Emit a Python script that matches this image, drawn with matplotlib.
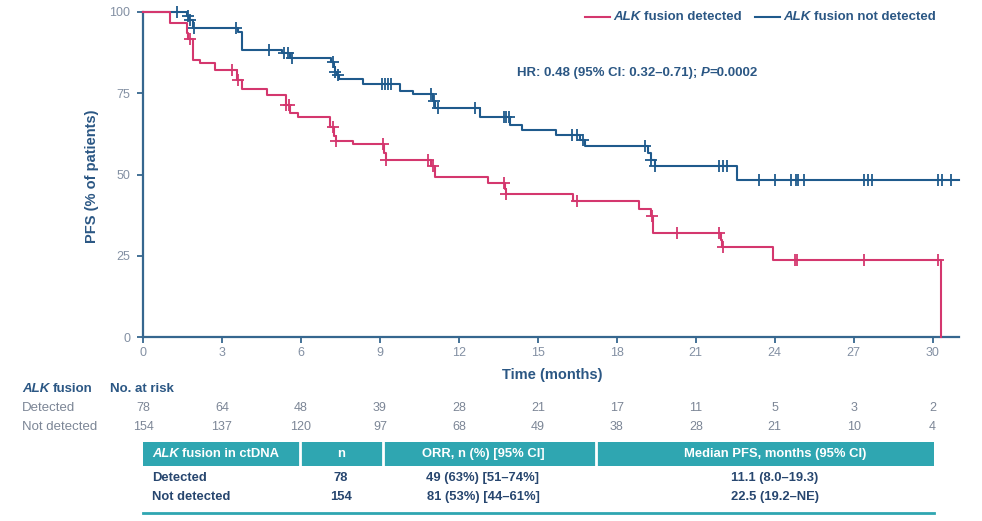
import matplotlib
matplotlib.use('Agg')
import matplotlib.pyplot as plt
import numpy as np
from matplotlib.patches import Rectangle
from matplotlib.transforms import blended_transform_factory

plt.rcParams['font.family'] = ['Liberation Sans', 'DejaVu Sans']

# ---------------- data ----------------
# ALK fusion detected (step times in months, PFS %)
det_times = [0, 1.03, 1.66, 1.72, 1.9, 2.17, 2.73, 3.56, 3.75, 4.7, 5.45, 5.58, 5.9,
             7.1, 7.25, 7.35, 7.99, 9.15, 9.25, 10.95, 11.1, 13.1, 13.75, 13.8,
             16.35, 18.85, 19.3, 19.38, 21.95, 22.0, 23.95, 30.3]
det_surv = [100, 96.7, 93.5, 91.8, 85.2, 84.2, 82.3, 79.0, 76.3, 74.5, 71.5, 69.0, 67.8,
            64.5, 62.0, 60.4, 59.4, 56.5, 54.5, 52.5, 49.3, 47.5, 45.5, 43.9,
            41.8, 39.3, 37.3, 31.9, 29.8, 27.8, 23.7, 0]
det_censor = [1.8, 3.4, 3.6, 5.45, 5.55, 7.2, 7.35, 9.13, 9.25, 10.84, 11.0, 13.7, 13.8,
              16.5, 19.32, 20.27, 21.9, 22.05, 24.76, 24.86, 27.4, 30.2]

# ALK fusion not detected
nd_times = [0, 1.66, 1.75, 1.9, 3.6, 3.76, 5.27, 5.6, 7.16, 7.25, 7.3, 7.38, 7.45,
            8.36, 9.76, 10.26, 11.0, 11.1, 12.8, 13.94, 14.38, 15.7, 16.6, 16.8,
            19.2, 19.3, 19.45, 22.55, 31.0]
nd_surv = [100, 98.7, 97.4, 95.0, 93.7, 88.3, 87.3, 86.0, 84.5, 83.0, 81.5, 80.5, 79.4,
           78.0, 75.7, 74.7, 72.5, 70.4, 67.8, 65.2, 63.7, 62.2, 60.5, 58.9,
           56.5, 54.5, 52.5, 48.3, 48.3]
nd_censor = [1.28, 1.7, 1.8, 1.95, 3.55, 4.8, 5.35, 5.5, 5.65, 7.2, 7.3, 7.42,
             9.07, 9.2, 9.3, 9.44, 10.95, 11.05, 11.2, 12.6, 13.7, 13.8, 13.9,
             16.3, 16.5, 16.7, 19.07, 19.3, 19.45, 21.9, 22.05, 22.2,
             23.4, 24.0, 24.6, 24.8, 24.9, 25.1, 27.4, 27.55, 27.7, 30.2, 30.35, 30.7]

xticks = list(range(0, 31, 3))
yticks = [0, 25, 50, 75, 100]
risk_det = [78, 64, 48, 39, 28, 21, 17, 11, 5, 3, 2]
risk_nd = [154, 137, 120, 97, 68, 49, 38, 28, 21, 10, 4]

tbl_header = ["n", "ORR, n (%) [95% CI]", "Median PFS, months (95% CI)"]
tbl_rows = ["Detected", "Not detected"]
tbl_n = ["78", "154"]
tbl_orr = ["49 (63%) [51\u201374%]", "81 (53%) [44\u201361%]"]
tbl_pfs = ["11.1 (8.0\u201319.3)", "22.5 (19.2\u2013NE)"]

# ---------------- styles ----------------
RED = '#D4376E'
BLUE = '#1F5A8C'
AXC = '#36678F'
TICKC = '#8390A3'
TXT = '#2B5784'
NAVY = '#27466F'
GRAY = '#7C8696'
TEAL = '#2FA6B1'

W, H = 982, 521
fig = plt.figure(figsize=(W / 100, H / 100), dpi=100)

ov = fig.add_axes([0, 0, 1, 1], zorder=5)
ov.set_xlim(0, W)
ov.set_ylim(H, 0)
ov.axis('off')
ov.patch.set_alpha(0)

ax = fig.add_axes([143 / W, 1 - 337 / H, (959 - 143) / W, (337 - 12) / H])
ax.set_xlim(0, 31)
ax.set_ylim(0, 100)
for s in ['top', 'right']:
    ax.spines[s].set_visible(False)
for s in ['left', 'bottom']:
    ax.spines[s].set_color(AXC)
    ax.spines[s].set_linewidth(1.6)
ax.set_xticks(xticks)
ax.set_yticks(yticks)
ax.tick_params(axis='both', colors=AXC, labelcolor=TICKC, labelsize=9, length=4, width=1.3)
ax.tick_params(axis='y', pad=5)
ax.tick_params(axis='x', pad=3)


def level_at(times, surv, t):
    i = np.searchsorted(times, t, side='right') - 1
    return surv[i]


for times, surv, cens, col in [(nd_times, nd_surv, nd_censor, BLUE),
                               (det_times, det_surv, det_censor, RED)]:
    ax.step(times, surv, where='post', color=col, lw=1.5, clip_on=False, zorder=3)
    cy = [level_at(np.array(times), surv, c) for c in cens]
    ax.plot(cens, cy, ls='none', marker='+', ms=8, mew=1.3, color=col, clip_on=False, zorder=4)

renderer = fig.canvas.get_renderer()


def rich(x, y, pieces, size, color):
    cx = x
    for txt, style, gap in pieces:
        t = ov.text(cx, y, txt, fontsize=size, color=color, fontweight='bold',
                    fontstyle=style, ha='left', va='center')
        bb = t.get_window_extent(renderer=renderer)
        cx += bb.width + gap * size * 100 / 72


# axis labels
ov.text(92, 176, "PFS (% of patients)", rotation=90, ha='center', va='center',
        fontsize=10.5, fontweight='bold', color=TXT)
ov.text(552, 375, "Time (months)", ha='center', va='center', fontsize=10.5,
        fontweight='bold', color=TXT)

# legend
ov.plot([585, 610], [17, 17], color=RED, lw=1.5)
rich(613, 17, [("ALK", 'italic', 0.28), ("fusion detected", 'normal', 0)], 9.5, TXT)
ov.plot([755, 780], [17, 17], color=BLUE, lw=1.5)
rich(783, 17, [("ALK", 'italic', 0.28), ("fusion not detected", 'normal', 0)], 9.5, TXT)

# HR text
rich(517, 73, [("HR: 0.48 (95% CI: 0.32\u20130.71);", 'normal', 0.28),
               ("P", 'italic', 0.0), ("=0.0002", 'normal', 0)], 9.5, TXT)

# number at risk
rich(22, 389, [("ALK", 'italic', 0.28), ("fusion", 'normal', 0)], 9.5, TXT)
ov.text(110, 389, "No. at risk", ha='left', va='center', fontsize=9.5, fontweight='bold', color=TXT)
ov.text(22, 408, "Detected", ha='left', va='center', fontsize=9.5, color=GRAY)
ov.text(22, 427, "Not detected", ha='left', va='center', fontsize=9.5, color=GRAY)
tr = blended_transform_factory(ax.transData, ov.transData)
for xt, a, b in zip(xticks, risk_det, risk_nd):
    ov.text(xt, 408, str(a), transform=tr, ha='center', va='center', fontsize=9, color=GRAY)
    ov.text(xt, 427, str(b), transform=tr, ha='center', va='center', fontsize=9, color=GRAY)

# summary table
TFS = 9.4
ov.add_patch(Rectangle((143, 442), 934 - 143, 23.5, facecolor=TEAL, edgecolor='none'))
for xs in [300, 383, 596]:
    ov.plot([xs, xs], [442, 465.5], color='white', lw=2)
rich(152, 454, [("ALK", 'italic', 0.28), ("fusion in ctDNA", 'normal', 0)], TFS, 'white')
col_cx = [341, 483, 775]
for cx, h in zip(col_cx, tbl_header):
    ov.text(cx, 454, h, ha='center', va='center', fontsize=TFS, fontweight='bold', color='white')
row_y = [478, 497]
for ry, lab, n, orr, pfs in zip(row_y, tbl_rows, tbl_n, tbl_orr, tbl_pfs):
    ov.text(152, ry, lab, ha='left', va='center', fontsize=TFS, fontweight='bold', color=NAVY)
    for cx, v in zip(col_cx, [n, orr, pfs]):
        ov.text(cx, ry, v, ha='center', va='center', fontsize=TFS, fontweight='bold', color=NAVY)
ov.plot([143, 934], [513, 513], color=TEAL, lw=2)

fig.savefig('out.png', dpi=100)
